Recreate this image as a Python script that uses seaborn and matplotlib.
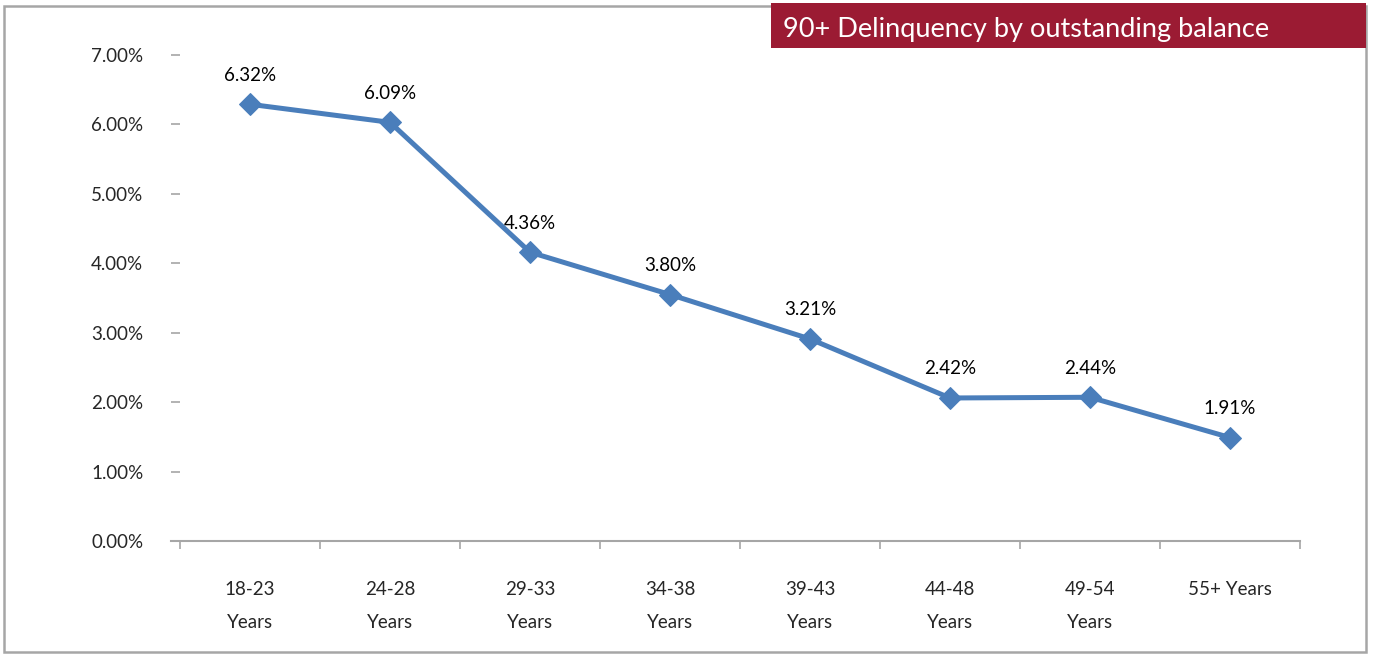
import matplotlib
matplotlib.use("Agg")
import matplotlib.pyplot as plt
import pandas as pd
import seaborn as sns
from matplotlib.patches import Rectangle
from matplotlib.ticker import FixedLocator, NullFormatter

# data (plotted positions, in %) and the printed data labels
age_groups = ["18-23\nYears", "24-28\nYears", "29-33\nYears", "34-38\nYears",
              "39-43\nYears", "44-48\nYears", "49-54\nYears", "55+ Years"]
plotted_pct = [6.29, 6.03, 4.16, 3.55, 2.91, 2.06, 2.07, 1.49]
label_text = ["6.32%", "6.09%", "4.36%", "3.80%", "3.21%", "2.42%", "2.44%", "1.91%"]
y_ticks = [0, 1, 2, 3, 4, 5, 6, 7]
y_tick_labels = ["0.00%", "1.00%", "2.00%", "3.00%", "4.00%", "5.00%", "6.00%", "7.00%"]
title = "90+ Delinquency by outstanding balance"

LINE = "#4A7EBB"
RED = "#9B1B33"
GREY = "#A6A6A6"

sns.set_style("white")
plt.rcParams["font.family"] = ["Lato", "DejaVu Sans"]

df = pd.DataFrame({"group": age_groups, "pct": plotted_pct})
df["pos"] = range(len(df))

fig = plt.figure(figsize=(13.82, 6.55), dpi=100)
ax = fig.add_axes([171 / 1382, 1 - 541 / 655, (1300 - 171) / 1382, (541 - 55) / 655])

sns.lineplot(data=df, x="pos", y="pct", ax=ax, color=LINE, linewidth=3.6,
             marker="D", markersize=11, markeredgecolor=LINE, markerfacecolor=LINE)

for x, y, lab in zip(df["pos"], df["pct"], label_text):
    ax.annotate(lab, (x, y), xytext=(0, 21), textcoords="offset points",
                ha="center", va="center", fontsize=13.5, color="black")

ax.set_xlim(-0.5 - 9 / 140, len(df) - 0.5)
ax.set_ylim(0, 7)

# category boundaries as major ticks, labels at the centres
ax.xaxis.set_major_locator(FixedLocator([i - 0.5 for i in range(len(df) + 1)]))
ax.xaxis.set_major_formatter(NullFormatter())
ax.xaxis.set_minor_locator(FixedLocator(list(df["pos"])))
ax.set_xticklabels(age_groups, minor=True)
ax.tick_params(axis="x", which="major", bottom=True, direction="out", length=6,
               width=1.2, color=GREY)
ax.tick_params(axis="x", which="minor", bottom=False, length=0, pad=29,
               labelsize=13.5)
for t in ax.xaxis.get_minorticklabels():
    t.set_linespacing(2.1)

ax.set_yticks(y_ticks)
ax.set_yticklabels(y_tick_labels)
ax.tick_params(axis="y", left=True, direction="in", length=6.5, width=1.2,
               color=GREY, pad=20, labelsize=13.5)

ax.set_xlabel("")
ax.set_ylabel("")
for side in ["top", "right", "left"]:
    ax.spines[side].set_visible(False)
ax.spines["bottom"].set_color(GREY)
ax.spines["bottom"].set_linewidth(1.5)

# outer frame and title banner
fig.patches.append(Rectangle((4 / 1382, 3 / 655), (1366 - 4) / 1382, (652 - 6) / 655,
                             transform=fig.transFigure, fill=False,
                             edgecolor=GREY, linewidth=1.8))
fig.patches.append(Rectangle((771 / 1382, 1 - 48 / 655), (1366 - 771) / 1382, 45 / 655,
                             transform=fig.transFigure, facecolor=RED, edgecolor="none"))
fig.text(783 / 1382, 1 - 30 / 655, title, color="white", fontsize=19.5,
         ha="left", va="center")

fig.savefig("out.png", dpi=100)
